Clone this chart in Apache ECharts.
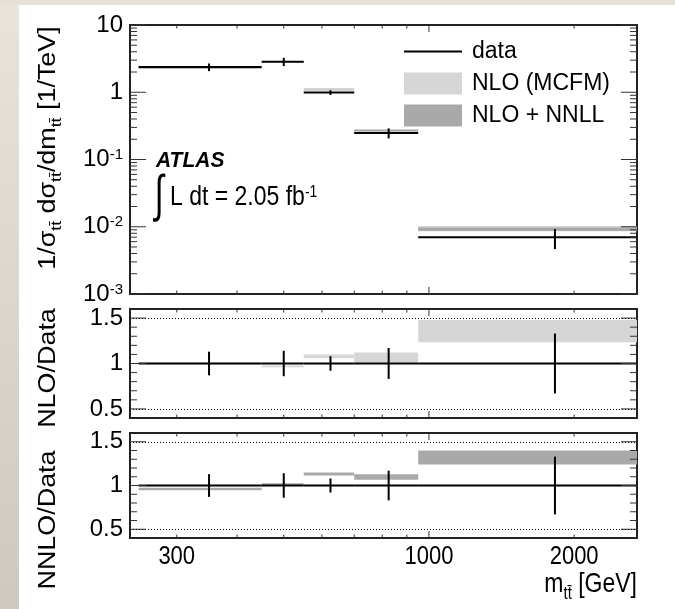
<!DOCTYPE html>
<html><head><meta charset="utf-8">
<script src="https://cdn.jsdelivr.net/npm/echarts@6/dist/echarts.min.js"></script>
<style>html,body{margin:0;padding:0;background:#fff}#c{width:675px;height:609px}</style>
</head><body><div id="c"></div>
<script>
// ---- data ----
const binLow = [250, 450, 550, 700, 950];
const binHigh = [450, 550, 700, 950, 2700];
const binCenter = [350, 500, 625, 825, 1825];
const dataValue = [2.37, 2.85, 0.99, 0.248, 0.00696];
const dataErr = [0.31, 0.40, 0.08, 0.042, 0.0023];
const nloLow = [2.35, 2.73, 1.046, 0.250, 0.00859];
const nloHigh = [2.39, 2.79, 1.089, 0.278, 0.0103];
const nnllLow = [2.24, 2.84, 1.103, 0.264, 0.00863];
const nnllHigh = [2.31, 2.92, 1.137, 0.280, 0.00974];
const ratioCentral = [1, 1, 1, 1, 1];
const ratioErr = [0.13, 0.14, 0.08, 0.17, 0.33];
const nloRatioLow = [0.99, 0.958, 1.057, 1.01, 1.234];
const nloRatioHigh = [1.01, 0.978, 1.10, 1.12, 1.48];
const nnllRatioLow = [0.945, 0.995, 1.114, 1.065, 1.24];
const nnllRatioHigh = [0.975, 1.025, 1.149, 1.13, 1.40];
// ---- ticks / labels ----
const xTickValues = [300, 1000, 2000];
const xTickLabels = ['300', '1000', '2000'];
const xMajorTicks = [1000];
const xMinorTicks = [300, 400, 500, 600, 700, 800, 900, 2000];
const topTickValues = [0.001, 0.01, 0.1, 1, 10];
const topTickLabels = ['10^-3', '10^-2', '10^-1', '1', '10'];
const topMinorTicks = [0.002,0.003,0.004,0.005,0.006,0.007,0.008,0.009,
  0.02,0.03,0.04,0.05,0.06,0.07,0.08,0.09,0.2,0.3,0.4,0.5,0.6,0.7,0.8,0.9,
  2,3,4,5,6,7,8,9];
const ratioTickValues = [0.5, 1, 1.5];
const ratioTickLabels = ['0.5', '1', '1.5'];
const ratioMinorTicks = [0.6, 0.7, 0.8, 0.9, 1.1, 1.2, 1.3, 1.4];

const FONT = "'Liberation Sans', Arial, Helvetica, sans-serif";
const STRETCH = 1.17;
const X_MIN = 240, X_MAX = 2700;
const LIGHT = '#d6d6d6', DARK = '#a9a9a9';

function bandData(lo, hi) { return binLow.map((b, i) => [b, binHigh[i], lo[i], hi[i]]); }
function pointData(vals, err) { return binLow.map((b, i) => [b, binHigh[i], binCenter[i], vals[i], err[i], err[i]]); }

function bandItem(params, api) {
  const p0 = api.coord([api.value(0), api.value(3)]);
  const p1 = api.coord([api.value(1), api.value(2)]);
  return { type: 'rect', shape: { x: p0[0], y: p0[1], width: p1[0] - p0[0], height: p1[1] - p0[1] },
    style: { fill: api.visual('color') } };
}
function dataItem(params, api) {
  const y = api.value(3);
  const a = api.coord([api.value(0), y]), b = api.coord([api.value(1), y]);
  const c1 = api.coord([api.value(2), y - api.value(4)]), c2 = api.coord([api.value(2), y + api.value(5)]);
  return { type: 'group', children: [
    { type: 'line', shape: { x1: a[0], y1: a[1], x2: b[0], y2: b[1] }, style: { stroke: '#000', lineWidth: 2 } },
    { type: 'line', shape: { x1: c1[0], y1: c1[1], x2: c2[0], y2: c2[1] }, style: { stroke: '#000', lineWidth: 2 } }
  ] };
}
function tickRenderer(yMajor, yMinor, yRef, withLabels) {
  return function (params, api) {
    const cs = params.coordSys;
    const L = cs.x, R = cs.x + cs.width, T = cs.y, B = cs.y + cs.height;
    const ch = [];
    const add = (x1, y1, x2, y2) => ch.push({ type: 'line', shape: { x1, y1, x2, y2 }, style: { stroke: '#333', lineWidth: 1 } });
    xMajorTicks.forEach(v => { const x = api.coord([v, yRef])[0]; add(x, B, x, B - 7); add(x, T, x, T + 7); });
    xMinorTicks.forEach(v => { const x = api.coord([v, yRef])[0]; add(x, B, x, B - 3.5); add(x, T, x, T + 3.5); });
    yMajor.forEach(v => { const y = api.coord([X_MIN, v])[1]; add(L, y, L + 16, y); add(R, y, R - 16, y); });
    yMinor.forEach(v => { const y = api.coord([X_MIN, v])[1]; add(L, y, L + 7, y); add(R, y, R - 7, y); });
    if (withLabels) {
      xTickValues.forEach((v, i) => {
        const x = api.coord([v, yRef])[0];
        ch.push({ type: 'text', x: x, y: B + 19, scaleY: STRETCH, style: { text: xTickLabels[i], fontSize: 22, fontFamily: FONT,
          fill: '#000', align: 'center', verticalAlign: 'middle' } });
      });
    }
    return { type: 'group', children: ch };
  };
}

function topLabel(v) {
  const i = topTickValues.findIndex(t => Math.abs(Math.log10(t) - Math.log10(v)) < 1e-6);
  if (i < 0) return '';
  const s = topTickLabels[i];
  if (s.indexOf('^') < 0) return '{n|' + s + '}';
  const parts = s.split('^');
  return '{n|' + parts[0] + '}{s|' + parts[1] + '}';
}
function ratioLabel(v) {
  const i = ratioTickValues.findIndex(t => Math.abs(t - v) < 1e-6);
  return i < 0 ? '' : ratioTickLabels[i];
}

const grids = [
  { left: 130, top: 25, width: 507, height: 269 },
  { left: 130, top: 309, width: 507, height: 109 },
  { left: 130, top: 433, width: 507, height: 105 }
].map(g => Object.assign({ show: true, borderColor: '#222', borderWidth: 2, backgroundColor: 'transparent' }, g));

const xAxes = [0, 1, 2].map(i => ({ type: 'log', logBase: 10, gridIndex: i, min: X_MIN, max: X_MAX,
  axisLine: { show: false }, axisTick: { show: false }, axisLabel: { show: false }, splitLine: { show: false } }));

const ratioAxisLabel = { margin: 7, formatter: ratioLabel, fontSize: 24, fontFamily: FONT, color: '#000', showMinLabel: true, showMaxLabel: true };
const yAxes = [
  { type: 'log', logBase: 10, gridIndex: 0, min: 0.001, max: 10,
    axisLine: { show: false }, axisTick: { show: false }, splitLine: { show: false },
    axisLabel: { margin: 7, formatter: topLabel, color: '#000',
      rich: { n: { fontSize: 24, fontFamily: FONT, color: '#000', verticalAlign: 'middle' },
              s: { fontSize: 15, fontFamily: FONT, color: '#000', verticalAlign: 'top' } } } },
  { type: 'value', gridIndex: 1, min: 0.4, max: 1.6, interval: 0.1,
    axisLine: { show: false }, axisTick: { show: false }, splitLine: { show: false }, axisLabel: ratioAxisLabel },
  { type: 'value', gridIndex: 2, min: 0.4, max: 1.6, interval: 0.1,
    axisLine: { show: false }, axisTick: { show: false }, splitLine: { show: false }, axisLabel: ratioAxisLabel }
];

const dotted = { silent: true, symbol: 'none', label: { show: false }, animation: false,
  lineStyle: { type: [1, 2], color: '#000', width: 1 }, data: [{ yAxis: 0.5 }, { yAxis: 1.5 }] };

const series = [
  // top panel
  { type: 'custom', name: 'NLO (MCFM)', xAxisIndex: 0, yAxisIndex: 0, renderItem: bandItem, itemStyle: { color: LIGHT },
    encode: { x: [0, 1], y: [2, 3] }, data: bandData(nloLow, nloHigh) },
  { type: 'custom', name: 'NLO + NNLL', xAxisIndex: 0, yAxisIndex: 0, renderItem: bandItem, itemStyle: { color: DARK },
    encode: { x: [0, 1], y: [2, 3] }, data: bandData(nnllLow, nnllHigh) },
  { type: 'custom', name: 'data', xAxisIndex: 0, yAxisIndex: 0, renderItem: dataItem, itemStyle: { color: '#000' },
    encode: { x: [0, 1, 2], y: [3] }, data: pointData(dataValue, dataErr) },
  { type: 'custom', name: 'ticks0', xAxisIndex: 0, yAxisIndex: 0, renderItem: tickRenderer(topTickValues, topMinorTicks, 1, false),
    data: [[0]], silent: true },
  // middle panel (NLO / data)
  { type: 'line', name: 'guides1', xAxisIndex: 1, yAxisIndex: 1, data: [], markLine: dotted },
  { type: 'custom', name: 'NLO (MCFM)', xAxisIndex: 1, yAxisIndex: 1, renderItem: bandItem, itemStyle: { color: LIGHT },
    encode: { x: [0, 1], y: [2, 3] }, data: bandData(nloRatioLow, nloRatioHigh) },
  { type: 'custom', name: 'data', xAxisIndex: 1, yAxisIndex: 1, renderItem: dataItem, itemStyle: { color: '#000' },
    encode: { x: [0, 1, 2], y: [3] }, data: pointData(ratioCentral, ratioErr) },
  { type: 'custom', name: 'ticks1', xAxisIndex: 1, yAxisIndex: 1, renderItem: tickRenderer(ratioTickValues, ratioMinorTicks, 1, false),
    data: [[0]], silent: true },
  // bottom panel (NNLO / data)
  { type: 'line', name: 'guides2', xAxisIndex: 2, yAxisIndex: 2, data: [], markLine: dotted },
  { type: 'custom', name: 'NLO + NNLL', xAxisIndex: 2, yAxisIndex: 2, renderItem: bandItem, itemStyle: { color: DARK },
    encode: { x: [0, 1], y: [2, 3] }, data: bandData(nnllRatioLow, nnllRatioHigh) },
  { type: 'custom', name: 'data', xAxisIndex: 2, yAxisIndex: 2, renderItem: dataItem, itemStyle: { color: '#000' },
    encode: { x: [0, 1, 2], y: [3] }, data: pointData(ratioCentral, ratioErr) },
  { type: 'custom', name: 'ticks2', xAxisIndex: 2, yAxisIndex: 2, renderItem: tickRenderer(ratioTickValues, ratioMinorTicks, 1, true),
    data: [[0]], silent: true }
];

const TT = 'tt\u0304';
const richTitle = {
  n: { fontSize: 23, fontFamily: FONT, fill: '#000', verticalAlign: 'top', lineHeight: 25 },
  b: { fontSize: 15, fontFamily: FONT, fill: '#000', verticalAlign: 'top', lineHeight: 16, padding: [12, 0, 0, 0] }
};
const graphic = [
  { type: 'rect', left: 0, top: 0, z: -10, shape: { width: 19, height: 609 },
    style: { fill: new echarts.graphic.LinearGradient(0, 0, 0, 1, [{ offset: 0, color: '#e8e4dc' }, { offset: 1, color: '#cdc8c0' }]) } },
  { type: 'rect', left: 0, top: 0, z: -10, shape: { width: 675, height: 5 }, style: { fill: '#e6e2da' } },
  // y title, top panel
  { type: 'text', x: 50, y: 148, rotation: Math.PI / 2, scaleX: STRETCH, style: {
      text: '{n|1/\u03c3}{b|' + TT + '}{n| d\u03c3}{b|' + TT + '}{n|/dm}{b|' + TT + '}{n| [1/TeV]}',
      align: 'center', verticalAlign: 'middle', rich: richTitle } },
  { type: 'text', x: 49, y: 368, rotation: Math.PI / 2, scaleX: STRETCH, style: { text: 'NLO/Data', fontSize: 23, fontFamily: FONT, fill: '#000',
      align: 'center', verticalAlign: 'middle' } },
  { type: 'text', x: 49, y: 520, rotation: Math.PI / 2, scaleX: STRETCH, style: { text: 'NNLO/Data', fontSize: 23, fontFamily: FONT, fill: '#000',
      align: 'center', verticalAlign: 'middle' } },
  // x title
  { type: 'text', x: 637, y: 586, scaleY: STRETCH, style: {
      text: '{n|m}{b|' + TT + '}{n| [GeV]}', align: 'right', verticalAlign: 'middle', rich: richTitle } },
  // ATLAS label
  { type: 'text', x: 156, y: 161, scaleY: 1.08, style: { text: 'ATLAS', fontSize: 21, fontWeight: 'bold', fontStyle: 'italic', fontFamily: FONT,
      fill: '#000', align: 'left', verticalAlign: 'middle' } },
  { type: 'text', x: 159, y: 197, scaleY: 1.55, style: { text: '\u222b', fontSize: 33, fontFamily: FONT, fill: '#000',
      align: 'center', verticalAlign: 'middle' } },
  { type: 'text', x: 170, y: 198, scaleY: STRETCH, style: { text: '{n|L dt = 2.05 fb}{s|-1}', align: 'left', verticalAlign: 'middle',
      rich: { n: { fontSize: 23, fontFamily: FONT, fill: '#000', verticalAlign: 'middle' },
              s: { fontSize: 14, fontFamily: FONT, fill: '#000', verticalAlign: 'top' } } } }
];

const chart = echarts.init(document.getElementById('c'), null, { renderer: 'canvas' });
chart.setOption({
  animation: false,
  backgroundColor: '#fff',
  grid: grids,
  xAxis: xAxes,
  yAxis: yAxes,
  legend: {
    orient: 'vertical', left: 404, top: 40, itemWidth: 58, itemHeight: 22, itemGap: 9, padding: 0,
    selectedMode: false,
    textStyle: { fontSize: 23, fontFamily: FONT, color: '#000', padding: [0, 0, 0, 5] },
    data: [
      { name: 'data', icon: 'path://M0,0 L0,0 M0,10 L58,10 L58,12 L0,12 Z M0,22 L0,22', itemStyle: { color: '#000', borderWidth: 0 } },
      { name: 'NLO (MCFM)', icon: 'rect', itemStyle: { color: LIGHT, borderWidth: 0 } },
      { name: 'NLO + NNLL', icon: 'rect', itemStyle: { color: DARK, borderWidth: 0 } }
    ]
  },
  graphic: graphic,
  series: series
});
</script></body></html>
